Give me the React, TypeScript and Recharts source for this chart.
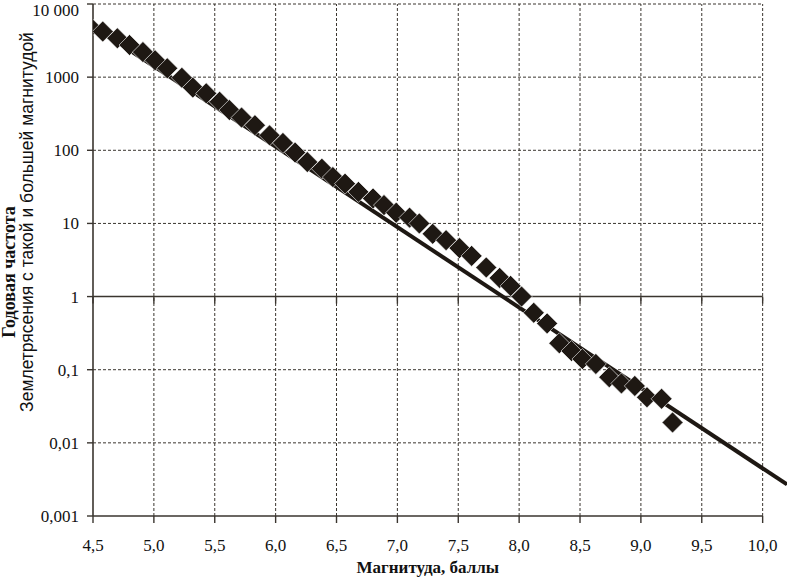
import {
  ComposedChart,
  Line,
  ReferenceLine,
  Scatter,
  XAxis,
  YAxis,
} from "recharts";

const MAGNITUDE = [
  4.48, 4.58, 4.7, 4.8, 4.91, 5.01, 5.11, 5.23, 5.32, 5.43, 5.54, 5.62, 5.72,
  5.83, 5.95, 6.06, 6.16, 6.26, 6.38, 6.47, 6.57, 6.68, 6.8, 6.89, 6.99, 7.1,
  7.18, 7.29, 7.4, 7.51, 7.61, 7.73, 7.84, 7.93, 8.02, 8.12, 8.23, 8.33, 8.43,
  8.52, 8.63, 8.74, 8.84, 8.95, 9.05, 9.17, 9.26,
];
const FREQUENCY = [
  4800, 4200, 3400, 2750, 2200, 1700, 1320, 980, 720, 600, 460, 355, 280, 220,
  160, 126, 93, 69, 56, 43, 35, 27, 22, 17.8, 14, 12, 10, 7.2, 5.9, 4.6, 3.6,
  2.5, 1.8, 1.4, 1.0, 0.6, 0.43, 0.23, 0.18, 0.14, 0.12, 0.079, 0.065, 0.06,
  0.042, 0.04, 0.019,
];

// straight Gutenberg–Richter fit (ends of the drawn segment)
const FIT_MAGNITUDE = [4.5, 10.2];
const FIT_FREQUENCY = [5000, 0.0027];

const X_TICKS = [4.5, 5, 5.5, 6, 6.5, 7, 7.5, 8, 8.5, 9, 9.5, 10];
const Y_TICKS = [0.001, 0.01, 0.1, 1, 10, 100, 1000, 10000];
const GRID_LEVELS = [0.01, 0.1, 10, 100, 1000, 10000];

const points = MAGNITUDE.map((m, i) => ({ m, n: FREQUENCY[i] }));
const fit = FIT_MAGNITUDE.map((m, i) => ({ m, n: FIT_FREQUENCY[i] }));

const INK = "#1e1813";
const AXIS = "#3a352f";
const SERIF = "'Liberation Serif', 'DejaVu Serif', serif";
const SANS = "'Liberation Sans', Arial, sans-serif";
const X_MIN = 4.5;
const X_AXIS_END = 10;
const X_MAX = 10.2;
const Y_MIN = 0.001;
const Y_MAX = 10000;

const fmtX = (v: number) => v.toFixed(1).replace(".", ",");
const fmtY = (v: number) =>
  v === 10000 ? "10 000" : String(v).replace(".", ",");

function Diamond(props: any) {
  const { cx, cy } = props;
  if (cx == null || cy == null) return null;
  const r = 10.5;
  return (
    <polygon
      points={`${cx},${cy - r} ${cx + r},${cy} ${cx},${cy + r} ${cx - r},${cy}`}
      fill={INK}
      stroke="#ffffff"
      strokeWidth={0.6}
    />
  );
}

function XTick(props: any) {
  const { x, y, payload } = props;
  return (
    <text
      x={x}
      y={y + 12}
      textAnchor="middle"
      fontFamily={SERIF}
      fontSize={17}
      fill="#111"
    >
      {fmtX(payload.value)}
    </text>
  );
}

function YTick(props: any) {
  const { x, y, payload } = props;
  // keep the top label inside the picture
  const baseline = Math.max(y + 6, 16);
  return (
    <text
      x={x}
      y={baseline}
      textAnchor="end"
      fontFamily={SERIF}
      fontSize={17}
      fill="#111"
    >
      {fmtY(payload.value)}
    </text>
  );
}

// solid line at frequency 1, with small ticks under every x grid line
function UnitLine(props: any) {
  const { x1, x2, y1 } = props;
  if (x1 == null) return null;
  const span = X_AXIS_END - X_MIN;
  return (
    <g>
      <line x1={x1} y1={y1} x2={x2} y2={y1} stroke={AXIS} strokeWidth={1.6} />
      {X_TICKS.map((t) => {
        const x = x1 + ((t - X_MIN) / span) * (x2 - x1);
        return (
          <line key={t} x1={x} y1={y1} x2={x} y2={y1 + 7} stroke={AXIS} strokeWidth={1.4} />
        );
      })}
    </g>
  );
}

function XTitle(props: any) {
  const { viewBox } = props;
  if (!viewBox) return null;
  const cx =
    viewBox.x + (viewBox.width * ((X_AXIS_END - X_MIN) / (X_MAX - X_MIN))) / 2;
  return (
    <text
      x={cx}
      y={viewBox.y + 57}
      textAnchor="middle"
      fontFamily={SERIF}
      fontWeight={700}
      fontSize={17}
      fill="#111"
    >
      Магнитуда, баллы
    </text>
  );
}

function YTitle(props: any) {
  const { viewBox } = props;
  if (!viewBox) return null;
  const bx = 15;
  const by = 272;
  const sx = 33;
  const sy = 222;
  return (
    <g>
      <text
        x={bx}
        y={by}
        transform={`rotate(-90 ${bx} ${by})`}
        textAnchor="middle"
        fontFamily={SERIF}
        fontWeight={700}
        fontSize={18}
        fill="#111"
      >
        Годовая частота
      </text>
      <text
        x={sx}
        y={sy}
        transform={`rotate(-90 ${sx} ${sy})`}
        textAnchor="middle"
        fontFamily={SANS}
        fontSize={17.5}
        fill="#111"
      >
        Землетрясения с такой и большей магнитудой
      </text>
    </g>
  );
}

export default function App() {
  return (
    <div style={{ position: "absolute", left: 0, top: 0, background: "#fff" }}>
      <ComposedChart
        width={790}
        height={578}
        margin={{ top: 4, right: 3, bottom: 0, left: 0 }}
      >
        <XAxis
          type="number"
          dataKey="m"
          domain={[X_MIN, X_MAX]}
          ticks={X_TICKS}
          axisLine={false}
          tickLine={{ stroke: AXIS, strokeWidth: 1.4 }}
          tickSize={7}
          tickMargin={16}
          height={62}
          interval={0}
          allowDataOverflow
          tick={<XTick />}
          label={<XTitle />}
        />
        <YAxis
          type="number"
          dataKey="n"
          scale="log"
          domain={[Y_MIN, Y_MAX]}
          ticks={Y_TICKS}
          allowDataOverflow
          width={93}
          interval={0}
          axisLine={{ stroke: AXIS, strokeWidth: 1.6 }}
          tickLine={{ stroke: AXIS, strokeWidth: 1.4 }}
          tickSize={6}
          tickMargin={8}
          tick={<YTick />}
          label={<YTitle />}
        />
        {X_TICKS.slice(1).map((t) => (
          <ReferenceLine
            key={`v${t}`}
            segment={[
              { x: t, y: Y_MIN },
              { x: t, y: Y_MAX },
            ]}
            stroke={AXIS}
            strokeDasharray="3 2"
            strokeWidth={1}
          />
        ))}
        {GRID_LEVELS.map((lv) => (
          <ReferenceLine
            key={`h${lv}`}
            segment={[
              { x: X_MIN, y: lv },
              { x: X_AXIS_END, y: lv },
            ]}
            stroke={AXIS}
            strokeDasharray="3 2"
            strokeWidth={1}
          />
        ))}
        <ReferenceLine
          segment={[
            { x: X_MIN, y: Y_MIN },
            { x: X_AXIS_END, y: Y_MIN },
          ]}
          stroke={AXIS}
          strokeWidth={1.6}
        />
        <ReferenceLine
          segment={[
            { x: X_MIN, y: 1 },
            { x: X_AXIS_END, y: 1 },
          ]}
          shape={<UnitLine />}
        />
        <Line
          data={fit}
          dataKey="n"
          type="linear"
          stroke={INK}
          strokeWidth={4}
          dot={false}
          activeDot={false}
          isAnimationActive={false}
        />
        <Scatter
          data={points}
          dataKey="n"
          shape={<Diamond />}
          isAnimationActive={false}
        />
      </ComposedChart>
    </div>
  );
}
